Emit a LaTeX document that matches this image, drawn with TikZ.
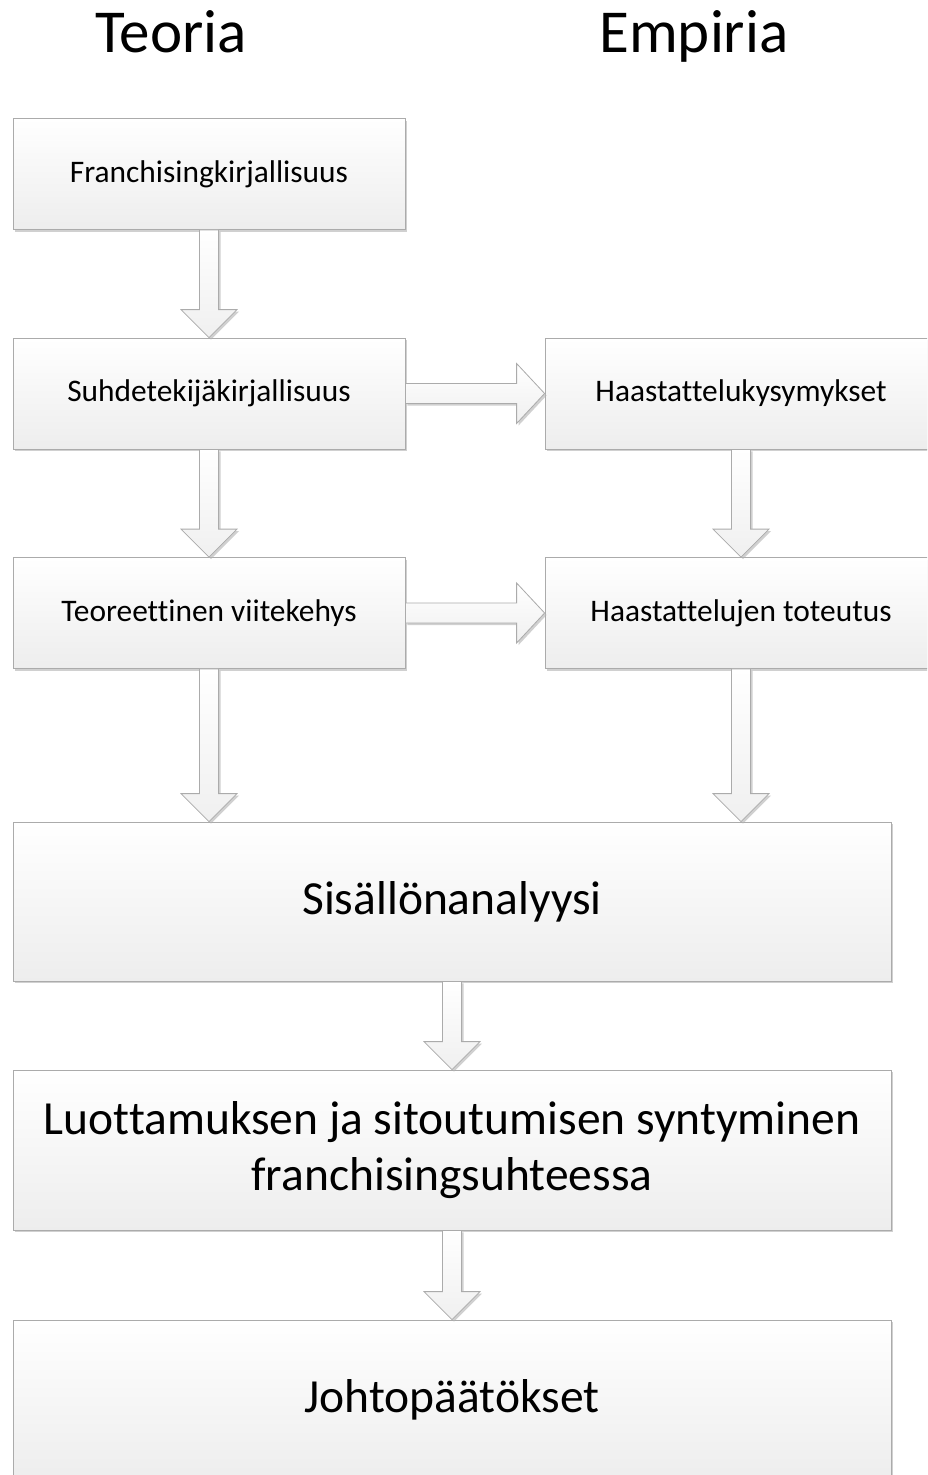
\documentclass[tikz,border=0pt]{standalone}
\usepackage{fontspec}
\setmainfont{Carlito}[RawFeature={-liga;-clig;-calt}]
\usetikzlibrary{calc,shadows}
\tikzset{
  box/.style={draw=black!33, line width=0.8pt, top color=white, bottom color=black!7,
    drop shadow={shadow xshift=2pt, shadow yshift=-2pt, fill=black!30, opacity=0.6},
    inner sep=0pt, align=center},
  smallbox/.style={box, minimum width=392pt, minimum height=111pt, font=\fontsize{31.4}{37}\selectfont},
  bigbox/.style={box, minimum width=878pt, minimum height=160pt, font=\fontsize{47.5}{56}\selectfont},
  fatarrow/.style={draw=black!33, line width=0.8pt, top color=white, bottom color=black!6,
    drop shadow={shadow xshift=2pt, shadow yshift=-2pt, fill=black!30, opacity=0.6}},
  header/.style={font=\fontsize{61}{72}\selectfont, inner sep=0pt, anchor=base}
}
\newcommand\fatdown[2]{%
  \draw[fatarrow] ($(#1.south)+(-9.5,0)$) -- ($(#1.south |- #2.north)+(-9.5,-28)$)
    -- ($(#1.south |- #2.north)+(-28,-28)$) -- (#1.south |- #2.north)
    -- ($(#1.south |- #2.north)+(28,-28)$) -- ($(#1.south |- #2.north)+(9.5,-28)$)
    -- ($(#1.south)+(9.5,0)$) -- cycle;}
\newcommand\fatright[2]{%
  \draw[fatarrow] ($(#1.east)+(0,-10)$) -- ($(#2.west)+(-28,-10)$)
    -- ($(#2.west)+(-28,-30)$) -- (#2.west)
    -- ($(#2.west)+(-28,30)$) -- ($(#2.west)+(-28,10)$)
    -- ($(#1.east)+(0,10)$) -- cycle;}
\begin{document}
\begin{tikzpicture}[x=1pt,y=-1pt]
\useasboundingbox (0,0) rectangle (927,1475);
\clip (0,0) rectangle (927,1475);
\fill[white] (0,0) rectangle (927,1475);
\node[header] (teoria) at (171,52) {Teoria};
\node[header] (empiria) at (694,52) {Empiria};
\node[smallbox] (b1) at (209,174) {Franchisingkirjallisuus};
\node[smallbox] (b2) at (209,393.5) {Suhdetekijäkirjallisuus};
\node[smallbox] (b3) at (209,613) {Teoreettinen viitekehys};
\node[smallbox] (e1) at (741,393.5) {Haastattelukysymykset};
\node[smallbox] (e2) at (741,613) {Haastattelujen toteutus};
\node[bigbox, minimum height=159pt] (s) at (452,901.5) {Sisällönanalyysi};
\node[bigbox] (l) at (452,1150) {Luottamuksen ja sitoutumisen syntyminen\\franchisingsuhteessa};
\node[bigbox] (j) at (452,1400) {Johtopäätökset};
\fatdown{b1}{b2}
\fatdown{b2}{b3}
\fatdown{b3}{s}
\fatdown{e1}{e2}
\fatdown{e2}{s}
\fatdown{s}{l}
\fatdown{l}{j}
\fatright{b2}{e1}
\fatright{b3}{e2}
\end{tikzpicture}
\end{document}
